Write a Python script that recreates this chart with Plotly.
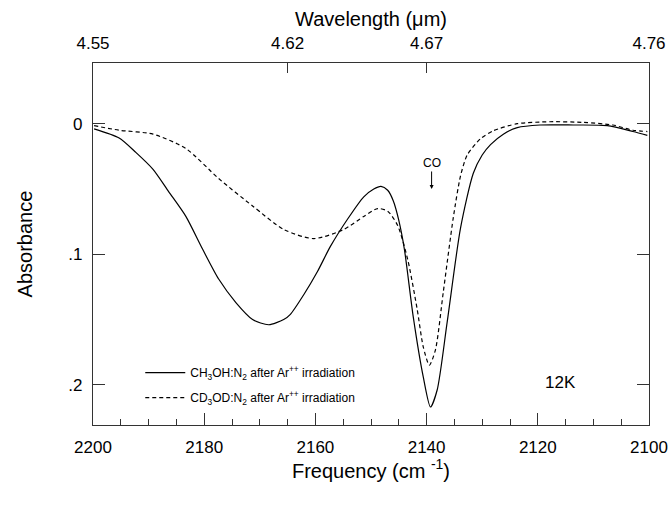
import plotly.graph_objects as go

# Frequency (cm^-1) and absorbance
solid_wn = [2199.8, 2195.3, 2192.3, 2189.2, 2186.4, 2183.3, 2180.3, 2177.4, 2174.3, 2171.3,
            2168.4, 2165.7, 2164.5, 2162.1, 2159.6, 2157.3, 2154.2, 2151.3, 2149.5, 2148.2,
            2147.0, 2146.0, 2145.0, 2144.0, 2142.4, 2140.6, 2139.3, 2138.1, 2136.3, 2133.9,
            2131.6, 2130.0, 2128.5, 2126.2, 2123.7, 2119.6, 2113.6, 2107.5, 2102.9, 2100.3]
solid_abs = [0.004, 0.011, 0.022, 0.035, 0.052, 0.071, 0.096, 0.119, 0.137, 0.150,
             0.154, 0.150, 0.146, 0.131, 0.113, 0.094, 0.073, 0.056, 0.050, 0.048,
             0.051, 0.059, 0.074, 0.096, 0.148, 0.194, 0.217, 0.204, 0.152, 0.080,
             0.038, 0.024, 0.016, 0.008, 0.003, 0.001, 0.001, 0.0015, 0.006, 0.009]

dash_wn = [2199.8, 2195.3, 2189.2, 2183.3, 2177.4, 2171.3, 2165.7, 2160.3, 2154.9, 2151.3,
           2148.8, 2147.0, 2145.2, 2143.4, 2141.7, 2140.6, 2139.5, 2138.4, 2137.0, 2135.2,
           2133.9, 2132.7, 2130.3, 2128.0, 2123.7, 2117.8, 2111.8, 2106.5, 2102.9, 2100.3]
dash_abs = [0.0015, 0.005, 0.008, 0.019, 0.042, 0.063, 0.081, 0.088, 0.081, 0.071,
            0.065, 0.067, 0.078, 0.104, 0.142, 0.171, 0.185, 0.173, 0.129, 0.072,
            0.040, 0.024, 0.0115, 0.0054, 0.0, -0.0015, -0.001, 0.001, 0.005, 0.006]

y_tickvals = [0, 0.1, 0.2]
y_ticktext = ["0", ".1", ".2"]
x_tickvals = [2200, 2180, 2160, 2140, 2120, 2100]
top_tickvals = [2200, 2165, 2140, 2100]
top_ticktext = ["4.55", "4.62", "4.67", "4.76"]

FONT = "Liberation Sans, Arial, sans-serif"
AX = "#333333"

fig = go.Figure()
fig.add_trace(go.Scatter(x=solid_wn, y=solid_abs, mode="lines",
                         line=dict(color="black", width=1.2, shape="spline", smoothing=0.7),
                         name="CH<sub>3</sub>OH:N<sub>2</sub> after Ar<sup>++</sup> irradiation",
                         legendgroup="a"))
fig.add_trace(go.Scatter(x=dash_wn, y=dash_abs, mode="lines",
                         line=dict(color="black", width=1.2, dash="4px,3px", shape="spline", smoothing=0.7),
                         name="CD<sub>3</sub>OD:N<sub>2</sub> after Ar<sup>++</sup> irradiation",
                         legendgroup="b"))
fig.add_trace(go.Scatter(x=[None], y=[None], xaxis="x2", showlegend=False, hoverinfo="skip"))

fig.update_layout(
    width=671, height=512,
    margin=dict(l=93, r=22, t=63, b=87),
    paper_bgcolor="white", plot_bgcolor="white",
    font=dict(family=FONT, color="black", size=17),
    showlegend=True,
    legend=dict(x=0.085, y=0.11, xanchor="left", yanchor="middle",
                font=dict(size=12, family=FONT), bgcolor="rgba(0,0,0,0)",
                tracegroupgap=6, traceorder="grouped", itemwidth=40),
    xaxis=dict(range=[2200, 2100], tickvals=x_tickvals, ticks="inside", ticklen=12,
               tickcolor=AX, showline=True, linecolor=AX, linewidth=1.2,
               showgrid=False, zeroline=False, automargin=False,
               ticklabelstandoff=6,
               minor=dict(dtick=5, ticks="inside", ticklen=6, tickcolor=AX),
               title=dict(text="Frequency (cm <sup>-1</sup>)", standoff=4),
               tickfont=dict(size=17)),
    xaxis2=dict(range=[2200, 2100], overlaying="x", side="top", tickvals=top_tickvals,
                ticktext=top_ticktext, ticks="inside", ticklen=10, tickcolor=AX,
                showline=True, linecolor=AX, linewidth=1.2, showgrid=False, zeroline=False,
                automargin=False, ticklabelstandoff=6,
                title=dict(text="Wavelength (\u03bcm)", standoff=2),
                tickfont=dict(size=17)),
    yaxis=dict(range=[0.2308, -0.0465], tickvals=y_tickvals, ticktext=y_ticktext,
               ticks="inside", ticklen=12, tickcolor=AX, showline=True, linecolor=AX,
               linewidth=1.2, mirror="ticks", showgrid=False, zeroline=False,
               automargin=False, ticklabelstandoff=6,
               title=dict(text="Absorbance", standoff=30), tickfont=dict(size=17)),
    annotations=[
        dict(x=2139.1, y=0.05, xref="x", yref="y", text="CO", showarrow=True,
             arrowhead=2, arrowsize=0.8, arrowwidth=1, arrowcolor="black",
             ax=0, ay=-26, font=dict(size=12, family=FONT)),
        dict(x=2116, y=0.198, xref="x", yref="y", text="12K", showarrow=False,
             font=dict(size=17, family=FONT)),
    ],
)

fig.write_html("out.html", config={"displayModeBar": False},
               post_script="document.body.style.margin='0';document.body.style.padding='0';")
